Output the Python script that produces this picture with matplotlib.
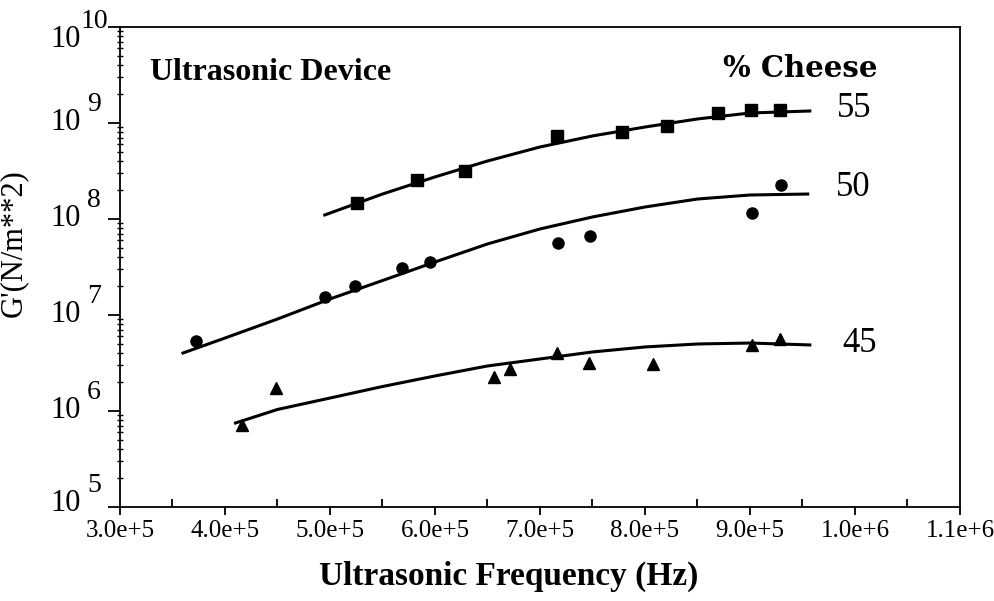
import numpy as np
import matplotlib
matplotlib.use("Agg")
import matplotlib.pyplot as plt
from matplotlib.ticker import FixedLocator, NullFormatter, LogLocator
import matplotlib.transforms as mtransforms

plt.rcParams['font.family'] = 'Liberation Serif'
plt.rcParams['axes.linewidth'] = 1.3

# measured points (frequency in Hz, G' in N/m^2)
x55 = [5.26e5, 5.83e5, 6.29e5, 7.16e5, 7.78e5, 8.21e5, 8.70e5, 9.01e5, 9.29e5]
y55 = [1.47e8, 2.55e8, 3.16e8, 7.3e8, 8.1e8, 9.3e8, 1.27e9, 1.37e9, 1.37e9]

x50 = [3.72e5, 4.95e5, 5.24e5, 5.69e5, 5.95e5, 7.17e5, 7.48e5, 9.02e5, 9.30e5]
y50 = [5.36e6, 1.54e7, 2.0e7, 3.09e7, 3.57e7, 5.62e7, 6.65e7, 1.155e8, 2.26e8]

x45 = [4.16e5, 4.49e5, 6.56e5, 6.71e5, 7.16e5, 7.47e5, 8.08e5, 9.02e5, 9.29e5]
y45 = [7.1e5, 1.74e6, 2.26e6, 2.74e6, 4.02e6, 3.16e6, 3.09e6, 4.87e6, 5.62e6]

# fitted curves (log10 of G')
fx55 = [4.95e5, 5.5e5, 6.0e5, 6.5e5, 7.0e5, 7.5e5, 8.0e5, 8.5e5, 9.0e5, 9.57e5]
fl55 = [8.042, 8.260, 8.438, 8.604, 8.750, 8.865, 8.958, 9.042, 9.104, 9.125]

fx50 = [3.6e5, 4.0e5, 4.5e5, 5.0e5, 5.5e5, 6.0e5, 6.5e5, 7.0e5, 7.5e5, 8.0e5, 8.5e5, 9.0e5, 9.55e5]
fl50 = [6.604, 6.760, 6.958, 7.167, 7.359, 7.552, 7.740, 7.896, 8.021, 8.125, 8.208, 8.250, 8.260]

fx45 = [4.1e5, 4.5e5, 5.0e5, 5.5e5, 6.0e5, 6.5e5, 7.0e5, 7.5e5, 8.0e5, 8.5e5, 9.0e5, 9.57e5]
fl45 = [5.875, 6.016, 6.135, 6.255, 6.365, 6.469, 6.542, 6.615, 6.667, 6.698, 6.708, 6.688]

xticks = [3.0e5, 4.0e5, 5.0e5, 6.0e5, 7.0e5, 8.0e5, 9.0e5, 1.0e6, 1.1e6]
xlabels = ['3.0e+5', '4.0e+5', '5.0e+5', '6.0e+5', '7.0e+5', '8.0e+5', '9.0e+5', '1.0e+6', '1.1e+6']
ydecades = [5, 6, 7, 8, 9, 10]

fig = plt.figure(figsize=(9.95, 6.01), dpi=100)
ax = fig.add_axes([0.1206, 0.1564, 0.8442, 0.7987])

ax.plot(fx55, 10 ** np.array(fl55), '-k', lw=2.2)
ax.plot(fx50, 10 ** np.array(fl50), '-k', lw=2.2)
ax.plot(fx45, 10 ** np.array(fl45), '-k', lw=2.2)
ax.plot(x55, y55, 'ks', ms=8, ls='none')
ax.plot(x50, y50, 'ko', ms=8, ls='none')
ax.plot(x45, y45, 'k^', ms=9, ls='none')

ax.set_yscale('log')
ax.set_xlim(3.0e5, 1.1e6)
ax.set_ylim(1e5, 1e10)

# x ticks
ax.xaxis.set_major_locator(FixedLocator(xticks))
ax.set_xticklabels(xlabels, fontsize=18)
ax.xaxis.set_minor_locator(FixedLocator([x + 0.5e5 for x in xticks[:-1]]))
ax.tick_params(axis='x', which='major', direction='out', length=6, width=1.3, pad=3)
ax.tick_params(axis='x', which='minor', direction='in', length=6, width=1.3)

# y ticks: labels drawn by hand as 10 with a raised exponent
ax.yaxis.set_major_locator(LogLocator(base=10, numticks=10))
ax.yaxis.set_minor_locator(LogLocator(base=10, subs=np.arange(2, 10), numticks=10))
ax.yaxis.set_major_formatter(NullFormatter())
ax.yaxis.set_minor_formatter(NullFormatter())
ax.tick_params(axis='y', which='major', direction='out', length=9, width=1.3)
ax.tick_params(axis='y', which='minor', direction='inout', length=5, width=1.0)

trans = mtransforms.blended_transform_factory(ax.transAxes, ax.transData)
for d in ydecades:
    shift = -13 if d == 10 else (4 if d == 5 else 0)
    base = mtransforms.offset_copy(trans, fig=fig, x=0, y=shift, units='dots')
    ax.text(-0.047, 10 ** d, '10', transform=base, ha='right', va='center',
            fontsize=22, clip_on=False)
    off = mtransforms.offset_copy(trans, fig=fig, x=0, y=shift + 18, units='dots')
    ax.text(-0.031, 10 ** d, str(d), transform=off, ha='center', va='center',
            fontsize=20, clip_on=False)

ax.text(0.0357, 0.906, 'Ultrasonic Device', transform=ax.transAxes, fontsize=23,
        fontweight='bold', va='center')
ax.text(0.718, 0.914, '% Cheese', transform=ax.transAxes, fontsize=21,
        fontweight='bold', family='DejaVu Serif', va='center')
ax.text(9.83e5, 10 ** 9.156, '55', fontsize=25, va='center')
ax.text(9.82e5, 10 ** 8.323, '50', fontsize=25, va='center')
ax.text(9.88e5, 10 ** 6.708, '45', fontsize=25, va='center')

ax.set_xlabel('Ultrasonic Frequency (Hz)', fontsize=24, fontweight='bold')
ax.xaxis.set_label_coords(0.463, -0.113)
ax.set_ylabel("G'(N/m**2)", fontsize=22)
ax.yaxis.set_label_coords(-0.11, 0.55)

plt.savefig('out.png', dpi=100)
